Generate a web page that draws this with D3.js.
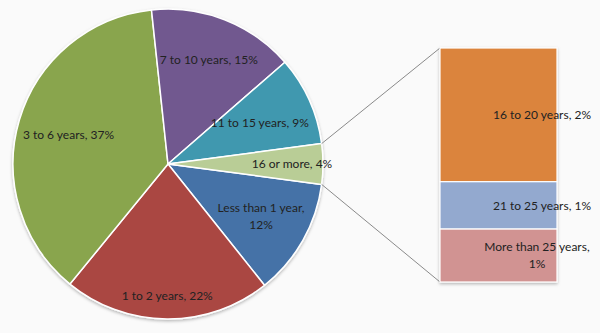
<!DOCTYPE html>
<html>
<head>
<meta charset="utf-8">
<script src="https://cdn.jsdelivr.net/npm/d3@7"></script>
<style>
  html, body { margin: 0; padding: 0; background: #fafafa; }
  svg { display: block; }
  text { font-family: Lato, "Open Sans", sans-serif; font-size: 12px; fill: #222222; }
</style>
</head>
<body>
<svg id="chart" width="600" height="333"></svg>
<script>
// Years of service — main pie with the smallest groups broken out into a stacked bar
const pieCategories = ["Less than 1 year", "1 to 2 years", "3 to 6 years", "7 to 10 years", "11 to 15 years"];
const pieValues = [12.2, 21.6, 37.4, 15.3, 9.3];
const otherCategory = "16 or more";
const barCategories = ["16 to 20 years", "21 to 25 years", "More than 25 years"];
const barValues = [2.4, 0.85, 0.95];
const pieColors = ["#4572A7", "#AA4643", "#89A54E", "#71588F", "#4198AF", "#B9CD96"];
const barColors = ["#DB843D", "#93A9CF", "#D19392"];

const W = 600, H = 333;
const svg = d3.select("#chart");

const defs = svg.append("defs");
const shadow = defs.append("filter").attr("id", "soft").attr("x", "-10%").attr("y", "-10%")
  .attr("width", "120%").attr("height", "120%");
shadow.append("feDropShadow").attr("dx", 0).attr("dy", 1.5).attr("stdDeviation", 1.8)
  .attr("flood-color", "#000").attr("flood-opacity", 0.28);

const otherValue = d3.sum(barValues);
const slices = pieCategories.map((c, i) => ({ name: c, value: pieValues[i], color: pieColors[i] }));
slices.push({ name: otherCategory, value: otherValue, color: pieColors[5] });
const total = d3.sum(slices, d => d.value);
const pct = d3.format(".0%");

// Pie geometry: the broken-out slice is centred on the 3 o'clock direction
const cx = 168, cy = 164, R = 155;
const otherSpan = 2 * Math.PI * otherValue / total;
const start = Math.PI / 2 + otherSpan / 2;
const pie = d3.pie().sort(null).value(d => d.value).startAngle(start).endAngle(start + 2 * Math.PI);
const arcs = pie(slices);
const arc = d3.arc().innerRadius(0).outerRadius(R);

const gPie = svg.append("g").attr("transform", `translate(${cx},${cy})`);
gPie.append("g").attr("filter", "url(#soft)")
  .selectAll("path").data(arcs).join("path")
  .attr("d", arc)
  .attr("fill", d => d.data.color)
  .attr("stroke", "#ffffff")
  .attr("stroke-width", 1.5)
  .attr("stroke-linejoin", "round");

// Stacked bar for the broken-out groups
const barX0 = 440, barX1 = 557;
const barTop = 48, barBottom = 282;
const y = d3.scaleLinear().domain([0, otherValue]).range([barTop, barBottom]);
let acc = 0;
const stack = barValues.map((v, i) => {
  const d = { name: barCategories[i], value: v, color: barColors[i], y0: acc, y1: acc + v };
  acc += v;
  return d;
});

// Connector lines from the slice edges to the bar corners
const a0 = arcs[arcs.length - 1];
const edgePoint = ang => [cx + R * Math.sin(ang), cy - R * Math.cos(ang)];
const pTop = edgePoint(a0.startAngle);
const pBot = edgePoint(a0.endAngle);
svg.append("line").attr("x1", pTop[0]).attr("y1", pTop[1]).attr("x2", barX0).attr("y2", y(0))
  .attr("stroke", "#8a8a8a").attr("stroke-width", 1);
svg.append("line").attr("x1", pBot[0]).attr("y1", pBot[1]).attr("x2", barX0).attr("y2", y(otherValue))
  .attr("stroke", "#8a8a8a").attr("stroke-width", 1);

const gBar = svg.append("g");
gBar.append("g").attr("filter", "url(#soft)")
  .selectAll("rect").data(stack).join("rect")
  .attr("x", barX0).attr("width", barX1 - barX0)
  .attr("y", d => y(d.y0)).attr("height", d => y(d.y1) - y(d.y0))
  .attr("fill", d => d.color)
  .attr("stroke", "#ffffff").attr("stroke-width", 1.2);

// Labels
const wrapped = new Set(["Less than 1 year", "More than 25 years"]);
const labelRadius = {
  "Less than 1 year": 0.69, "1 to 2 years": 0.85, "3 to 6 years": 0.67,
  "7 to 10 years": 0.72, "11 to 15 years": 0.65, "16 or more": 0.8
};
function drawLabel(g, x, yc, name, value) {
  const lines = wrapped.has(name) ? [name + ",", pct(value / total)] : [name + ", " + pct(value / total)];
  const lh = 17;
  const t = g.append("text").attr("text-anchor", "middle");
  lines.forEach((ln, i) => {
    t.append("tspan").attr("x", x).attr("y", yc + (i - (lines.length - 1) / 2) * lh)
      .attr("dy", "0.35em").text(ln);
  });
}
const gLab = svg.append("g");
arcs.forEach(a => {
  const mid = (a.startAngle + a.endAngle) / 2;
  const r = R * labelRadius[a.data.name];
  drawLabel(gLab, cx + r * Math.sin(mid), cy - r * Math.cos(mid), a.data.name, a.data.value);
});
stack.forEach(d => {
  const xc = barX1 - (wrapped.has(d.name) ? 20 : 15);
  drawLabel(gLab, xc, (y(d.y0) + y(d.y1)) / 2, d.name, d.value);
});
</script>
</body>
</html>
